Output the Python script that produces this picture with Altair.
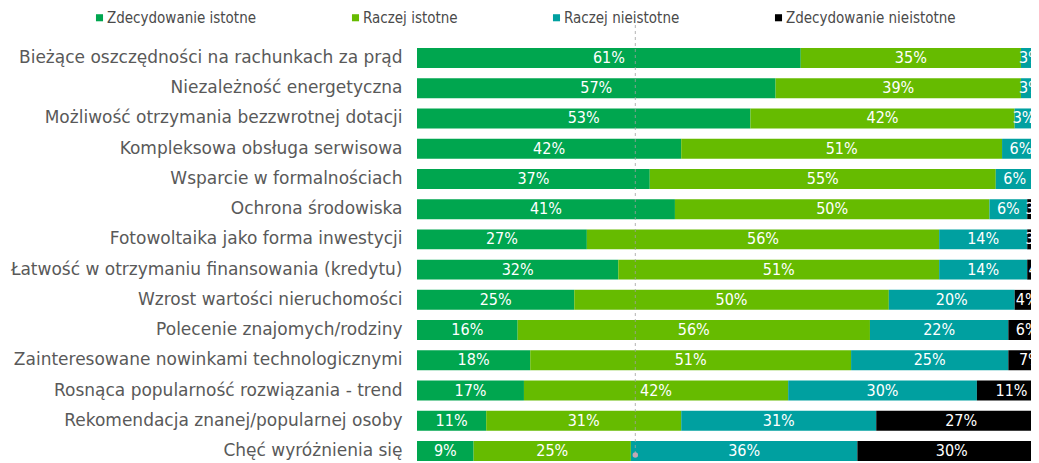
import altair as alt
import pandas as pd

items = [
    "Bieżące oszczędności na rachunkach za prąd",
    "Niezależność energetyczna ",
    "Możliwość otrzymania bezzwrotnej dotacji",
    "Kompleksowa obsługa serwisowa",
    "Wsparcie w formalnościach",
    "Ochrona środowiska",
    "Fotowoltaika jako forma inwestycji",
    "Łatwość w otrzymaniu finansowania (kredytu)",
    "Wzrost wartości nieruchomości",
    "Polecenie znajomych/rodziny",
    "Zainteresowane nowinkami technologicznymi",
    "Rosnąca popularność rozwiązania - trend",
    "Rekomendacja znanej/popularnej osoby",
    "Chęć wyróżnienia się",
]
cats = ["Zdecydowanie istotne", "Raczej istotne", "Raczej nieistotne", "Zdecydowanie nieistotne"]
v1 = [61, 57, 53, 42, 37, 41, 27, 32, 25, 16, 18, 17, 11, 9]
v2 = [35, 39, 42, 51, 55, 50, 56, 51, 50, 56, 51, 42, 31, 25]
v3 = [3, 3, 3, 6, 6, 6, 14, 14, 20, 22, 25, 30, 31, 36]
v4 = [0, 0, 2, 2, 3, 3, 3, 4, 4, 6, 7, 11, 27, 30]
colors = ["#00a64f", "#66bb00", "#00a0a0", "#000000"]
ref_x = [34.7]

rows = []
for series_i, vals in enumerate([v1, v2, v3, v4]):
    for item, v in zip(items, vals):
        rows.append({"item": item, "cat": cats[series_i], "order": series_i, "value": v})
df = pd.DataFrame(rows)

xscale = alt.Scale(domain=[0, 97.6], nice=False, zero=True)
yenc = alt.Y(
    "item:N",
    sort=items,
    scale=alt.Scale(paddingInner=0.34, paddingOuter=0),
    axis=alt.Axis(
        title=None, ticks=False, domain=False, labelFontSize=17,
        labelColor="#595959", labelFont="DejaVu Sans", labelPadding=15,
        minExtent=409, maxExtent=409, labelLimit=500,
    ),
)

base = alt.Chart(df).transform_stack(
    stack="value", groupby=["item"], sort=[alt.SortField("order")], as_=["start", "end"]
).transform_calculate(
    mid="(datum.start + datum.end) / 2", label="datum.value + '%'"
)

bars = base.mark_bar(clip=True).encode(
    y=yenc,
    x=alt.X("start:Q", scale=xscale, axis=None),
    x2="end:Q",
    color=alt.Color(
        "cat:N",
        scale=alt.Scale(domain=cats, range=colors),
        legend=alt.Legend(
            title=None, orient="none", legendX=-325, legendY=-38,
            direction="horizontal", symbolType="square", symbolSize=50,
            labelFontSize=15, labelFont="DejaVu Sans Condensed",
            labelColor="#4a4a4a", columnPadding=91, labelOffset=0,
            symbolStrokeWidth=0, labelLimit=400,
        ),
    ),
)

texts = base.transform_filter("datum.value > 0").mark_text(
    color="white", font="DejaVu Sans Condensed", fontSize=16, clip=True
).encode(
    y=alt.Y("item:N", sort=items),
    x=alt.X("mid:Q", scale=xscale),
    text="label:N",
)

ref = pd.DataFrame({"x": ref_x})
rule = alt.Chart(ref).mark_rule(strokeDash=[3, 3], color="#a0a0a0", opacity=0.8).encode(
    x=alt.X("x:Q", scale=xscale), y=alt.value(-23), y2=alt.value(407)
)
dot = alt.Chart(ref).mark_point(filled=True, size=30, color="#c4a8b4", opacity=1).encode(
    x=alt.X("x:Q", scale=xscale), y=alt.value(407)
)

chart = alt.layer(bars, texts, rule, dot).properties(
    width=614, height=413,
    padding={"left": 0, "top": 2, "right": 0, "bottom": 0},
).configure_view(stroke=None)

chart.save("out.html", embed_options={"renderer": "svg", "actions": False})
